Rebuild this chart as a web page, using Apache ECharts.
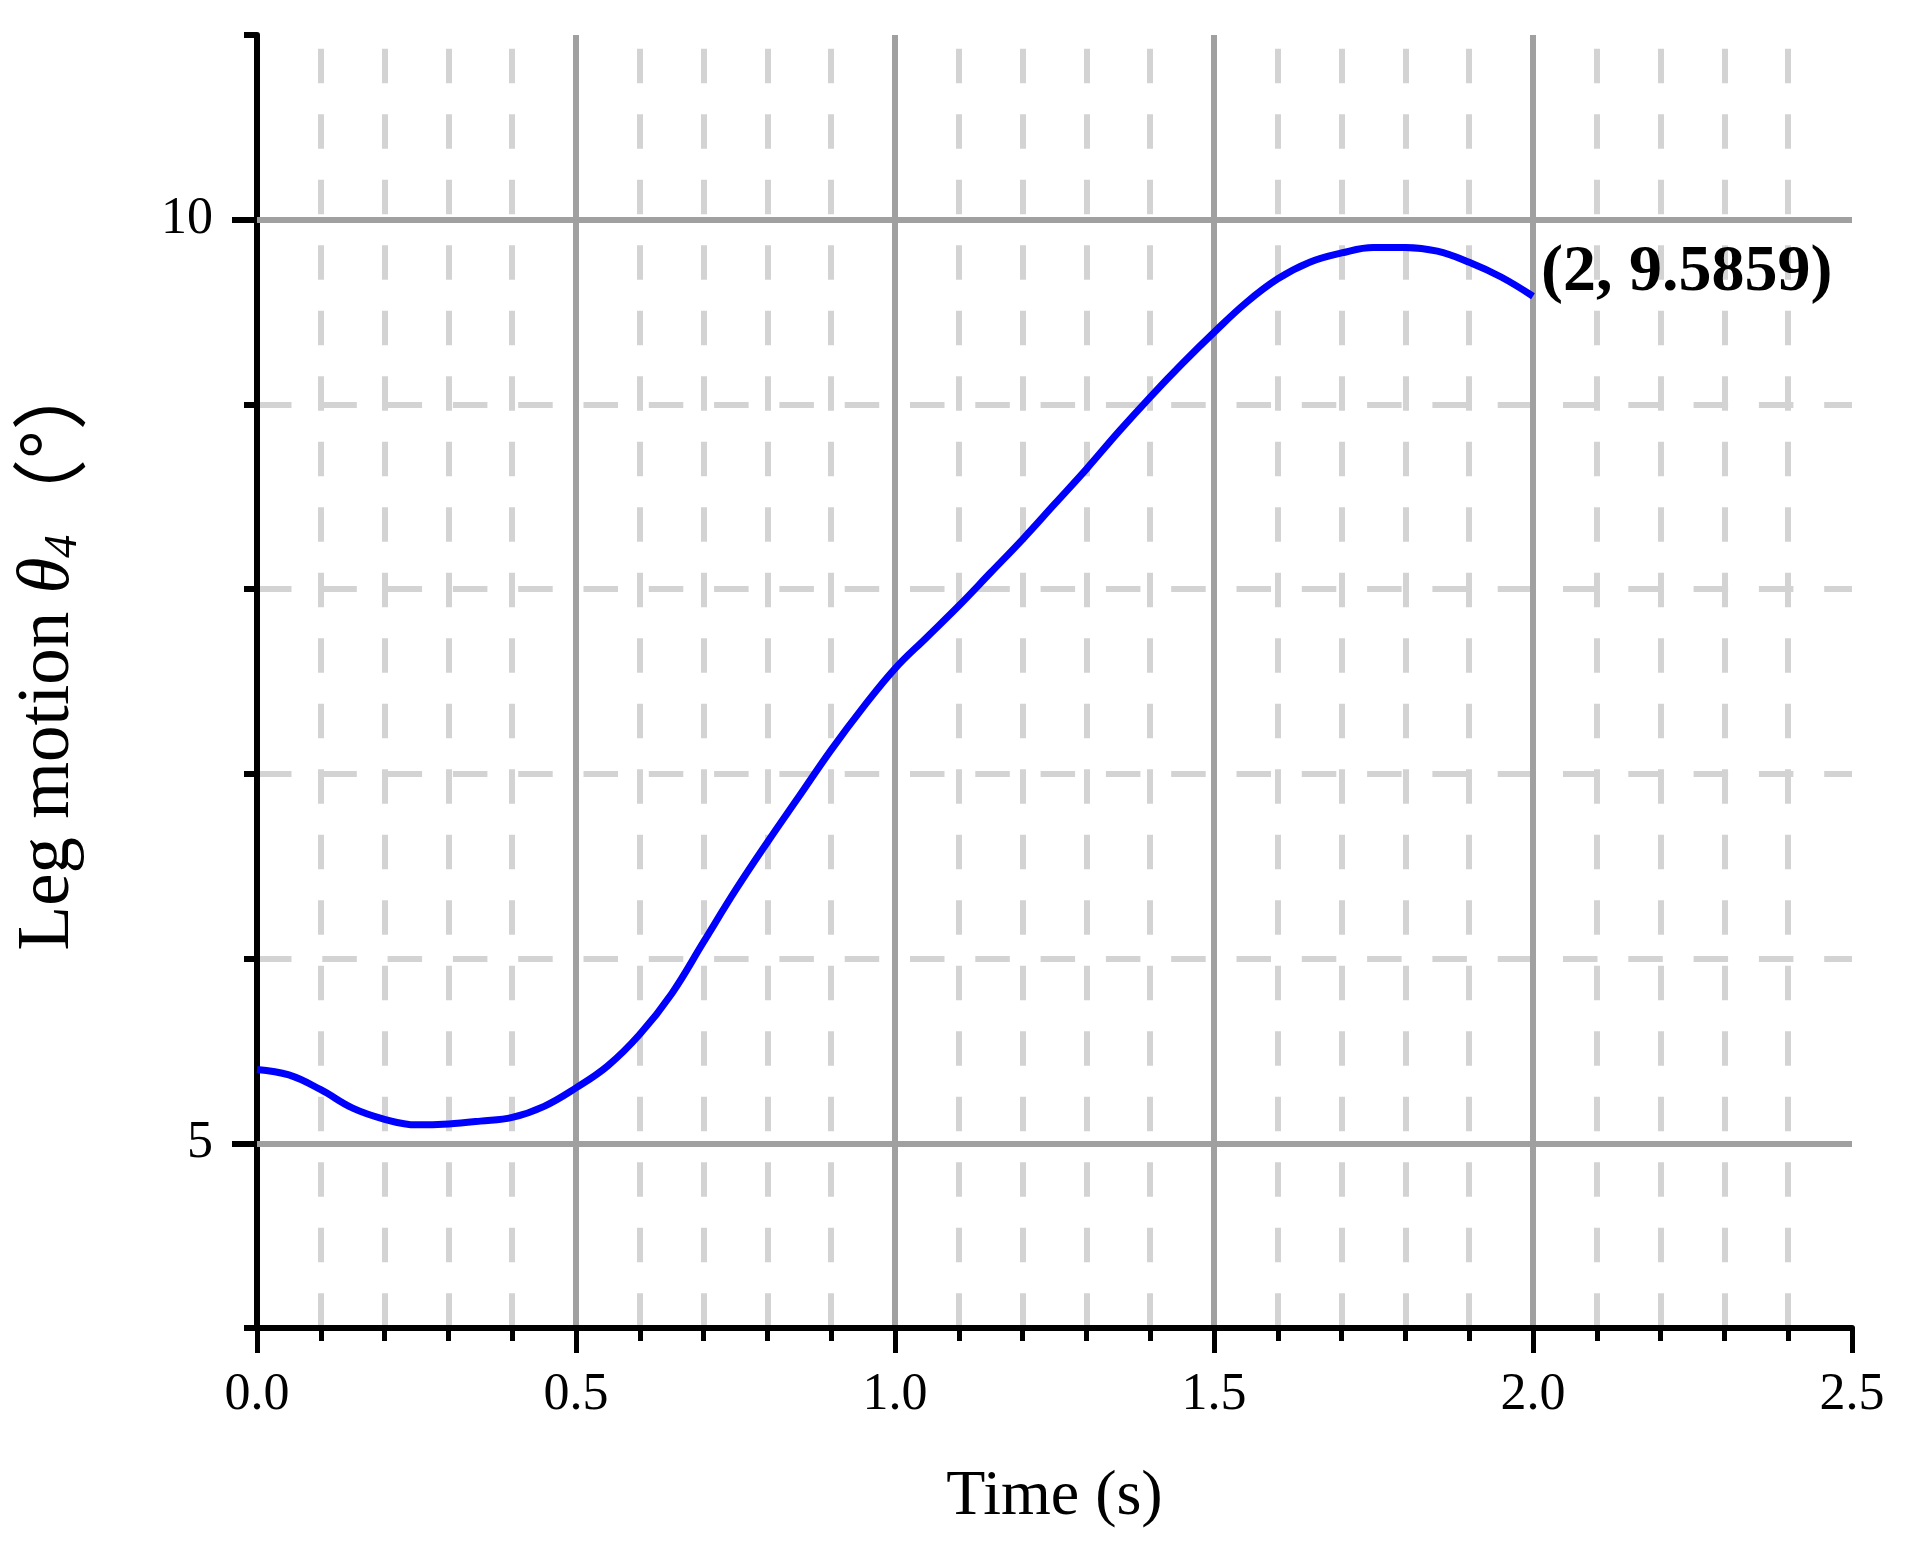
<!DOCTYPE html>
<html>
<head>
<meta charset="utf-8">
<script src="https://cdn.jsdelivr.net/npm/echarts@6/dist/echarts.min.js"></script>
<style>
html,body{margin:0;padding:0;background:#ffffff;}
#chart{width:1921px;height:1555px;}
</style>
</head>
<body>
<div id="chart"></div>
<script>
// ---- data ----
const timeValues = [0.00, 0.05, 0.10, 0.15, 0.20, 0.25, 0.30, 0.35, 0.40, 0.45,
                    0.50, 0.55, 0.60, 0.65, 0.70, 0.75, 0.80, 0.85, 0.90, 0.95,
                    1.00, 1.05, 1.10, 1.15, 1.20, 1.25, 1.30, 1.35, 1.40, 1.45,
                    1.50, 1.55, 1.60, 1.65, 1.70, 1.75, 1.80, 1.85, 1.90, 1.95, 2.00];
const thetaValues = [5.40, 5.37, 5.29, 5.19, 5.13, 5.10, 5.105, 5.12, 5.14, 5.20,
                     5.30, 5.42, 5.59, 5.81, 6.09, 6.37, 6.63, 6.88, 7.13, 7.36,
                     7.57, 7.74, 7.91, 8.09, 8.27, 8.46, 8.65, 8.85, 9.04, 9.22,
                     9.39, 9.55, 9.68, 9.77, 9.82, 9.85, 9.85, 9.83, 9.77, 9.69, 9.5859];
const xTickValues = [0, 0.5, 1.0, 1.5, 2.0, 2.5];
const yLabelValues = [5, 10];
const yMinorTickValues = [4, 5, 6, 7, 8, 9, 10, 11];

const serif = '"Liberation Serif", "Times New Roman", serif';
const points = timeValues.map((t, i) => [t, thetaValues[i]]);
const lastPoint = points[points.length - 1];
const endText = '(' + lastPoint[0] + ', ' + lastPoint[1] + ')';

const chart = echarts.init(document.getElementById('chart'), null, {renderer: 'canvas'});

const option = {
  animation: false,
  backgroundColor: '#ffffff',
  grid: {left: 257, right: 69, top: 35, bottom: 227, containLabel: false},
  xAxis: {
    type: 'value',
    min: xTickValues[0],
    max: xTickValues[xTickValues.length - 1],
    interval: 0.5,
    name: 'Time (s)',
    nameLocation: 'middle',
    nameGap: 137,
    nameTextStyle: {fontFamily: serif, fontSize: 64, color: '#000'},
    axisLine: {show: true, onZero: false, lineStyle: {color: '#000', width: 6}},
    axisTick: {show: true, inside: false, length: 25, lineStyle: {color: '#000', width: 5}},
    minorTick: {show: true, splitNumber: 5, length: 13, lineStyle: {color: '#000', width: 5}},
    axisLabel: {margin: 41, fontFamily: serif, fontSize: 52, color: '#000',
                formatter: v => v.toFixed(1)},
    splitLine: {show: true, showMinLine: false, showMaxLine: false,
                lineStyle: {color: '#a0a0a0', width: 6, type: 'solid'}},
    minorSplitLine: {show: true,
                     lineStyle: {color: '#d3d3d3', width: 6, type: [34.5, 31], dashOffset: 51.8}}
  },
  yAxis: [
    {
      type: 'value',
      min: yMinorTickValues[0],
      max: yMinorTickValues[yMinorTickValues.length - 1],
      interval: 1,
      position: 'left',
      name: '{a|Leg motion }{b|θ}{c|4}{d|（°）}',
      nameLocation: 'middle',
      nameRotate: 90,
      nameGap: 170,
      nameTextStyle: {
        color: '#000',
        padding: [0, 0, 0, 58],
        rich: {
          a: {fontFamily: serif, fontSize: 73, lineHeight: 76, color: '#000'},
          b: {fontFamily: serif, fontSize: 73, lineHeight: 76, fontStyle: 'italic', color: '#000'},
          c: {fontFamily: serif, fontSize: 46, lineHeight: 20, fontStyle: 'italic',
              verticalAlign: 'bottom', color: '#000'},
          d: {fontFamily: '"Noto Sans CJK SC", sans-serif', fontSize: 76, lineHeight: 76, color: '#000'}
        }
      },
      axisLine: {show: true, onZero: false, lineStyle: {color: '#000', width: 6}},
      axisTick: {show: true, inside: false, length: 13, lineStyle: {color: '#000', width: 6}},
      axisLabel: {show: false},
      splitLine: {show: true, showMinLine: false, showMaxLine: false,
                  lineStyle: {color: '#d3d3d3', width: 6, type: [34.5, 30.8], dashOffset: 0}}
    },
    {
      type: 'value',
      min: yMinorTickValues[0],
      max: yMinorTickValues[yMinorTickValues.length - 1],
      position: 'left',
      axisLine: {show: false},
      axisTick: {show: true, inside: false, length: 25, customValues: yLabelValues,
                 lineStyle: {color: '#000', width: 6}},
      axisLabel: {show: true, customValues: yLabelValues, margin: 44,
                  fontFamily: serif, fontSize: 52, color: '#000'},
      splitLine: {show: false}
    }
  ],
  series: [
    {
      type: 'line',
      xAxisIndex: 0,
      yAxisIndex: 0,
      data: points,
      showSymbol: false,
      symbol: 'none',
      smooth: 0.4,
      z: 5,
      lineStyle: {color: '#0000ff', width: 7},
      endLabel: {
        show: true,
        formatter: () => endText,
        distance: 8,
        offset: [0, -23],
        fontFamily: serif,
        fontWeight: 'bold',
        fontSize: 66,
        color: '#000'
      },
      markLine: {
        silent: true,
        symbol: 'none',
        label: {show: false},
        lineStyle: {color: '#a0a0a0', width: 6, type: 'solid'},
        data: yLabelValues.map(v => ({yAxis: v}))
      }
    }
  ]
};

chart.setOption(option);
</script>
</body>
</html>
